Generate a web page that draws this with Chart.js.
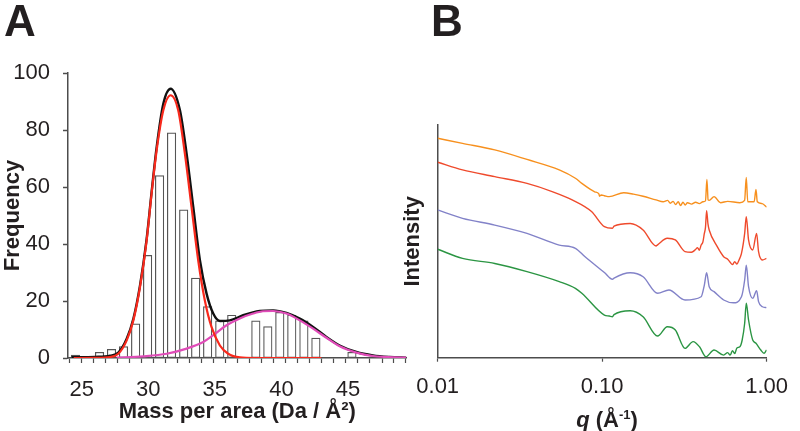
<!DOCTYPE html>
<html>
<head>
<meta charset="utf-8">
<script src="https://cdn.jsdelivr.net/npm/chart.js@4.4.0/dist/chart.umd.min.js"></script>
<style>
  body { margin: 0; background: #fff; width: 800px; height: 431px; position: relative; overflow: hidden;
         font-family: "Liberation Sans", Arial, sans-serif; color: #231f20; }
  #chartA { position: absolute; left: 0; top: 0; }
  #chartB { position: absolute; left: 400px; top: 0; }
  .letter { position: absolute; top: -1px; font-size: 44px; font-weight: bold; line-height: 44px; }
  #qTitle { position: absolute; top: 407px; left: 607px; transform: translateX(-50%);
            font-size: 22px; font-weight: bold; line-height: 26px; white-space: nowrap; }
  #qTitle sup { font-size: 13px; vertical-align: 8px; line-height: 0; }
</style>
</head>
<body>
<canvas id="chartA" width="420" height="431"></canvas>
<canvas id="chartB" width="400" height="431"></canvas>
<div class="letter" style="left:4px">A</div>
<div class="letter" style="left:431px">B</div>
<div id="qTitle"><i>q</i> (Å<sup>-1</sup>)</div>
<script>
// ---- panel A: histogram of mass per area ----
const binCenters = [24.53, 25.43, 26.34, 27.24, 28.14, 29.05, 29.95, 30.85, 31.75, 32.66,
                    33.56, 34.46, 35.37, 36.27, 37.17, 38.08, 38.98, 39.88, 40.78, 41.69,
                    42.59, 43.49, 44.40, 45.30, 46.20, 47.11, 48.01, 48.91];
const binCounts = [1, 0, 2, 3, 4, 12, 36, 64, 79, 52,
                   28, 18, 13, 15, 0, 13, 11, 16, 15, 13,
                   7, 0, 0, 2, 0, 0, 0, 0];
const massTicks = [25, 30, 35, 40, 45];

// fitted curves
const fitSumX = [24.25, 26.0, 27.13, 27.75, 28.38, 28.88, 29.38, 29.88, 30.25, 30.63, 31.13, 31.68,
                 32.38, 32.88, 33.38, 33.88, 34.38, 34.88, 35.38, 36.13, 37.13, 38.38, 39.38, 40.38,
                 41.38, 42.38, 43.38, 44.38, 45.63, 46.88, 48.13, 49.38];
const fitSumY = [0.3, 0.4, 0.8, 1.9, 6.8, 13.8, 25.5, 41.9, 58.2, 74.0, 89.2, 94.5,
                 86.9, 71.7, 53.0, 34.3, 22.6, 15.6, 13.0, 13.2, 15.0, 16.5, 16.7, 15.8,
                 13.8, 10.9, 7.4, 4.4, 2.1, 0.9, 0.35, 0.1];
const fit1X = [24.4, 26.0, 27.13, 27.75, 28.38, 28.88, 29.38, 29.88, 30.25, 30.63, 31.13, 31.68,
               32.25, 32.75, 33.25, 33.75, 34.25, 34.75, 35.38, 36.0, 36.88, 38.0, 43.0];
const fit1Y = [0, 0.05, 0.35, 1.5, 6.2, 13.2, 24.9, 41.3, 57.7, 72.9, 86.9, 92.2,
               86.9, 71.7, 53.0, 34.3, 20.2, 10.9, 4.4, 1.5, 0.2, 0, 0];
const fit2X = [27.63, 29.63, 31.38, 32.88, 34.13, 34.88, 35.88, 36.88, 37.88, 38.63, 39.38, 40.38,
               41.38, 42.38, 43.38, 44.38, 45.63, 46.88, 49.38];
const fit2Y = [0.1, 0.6, 1.5, 3.3, 5.6, 8.0, 11.5, 13.9, 15.6, 16.4, 16.5, 15.6,
               13.2, 10.3, 7.1, 4.1, 1.9, 0.7, 0.1];

// ---- panel B: scattering curves ----
const qTicks = [0.01, 0.1, 1];
const orangeQ = [0.01, 0.01416, 0.02223, 0.03491, 0.05485, 0.06875, 0.07524, 0.0901, 0.0955, 0.0965,
                 0.0986, 0.1032, 0.1104, 0.1353, 0.1549, 0.1774, 0.2126, 0.235, 0.25, 0.26,
                 0.27, 0.28, 0.29, 0.30, 0.31, 0.32, 0.33, 0.35, 0.37, 0.39,
                 0.41, 0.425, 0.4336, 0.441, 0.4477, 0.4791, 0.5244, 0.58, 0.6876, 0.735,
                 0.7524, 0.768, 0.84, 0.8619, 0.878, 0.94, 1.0];
const orangeI = [94.3, 92.1, 89.3, 85.2, 80.7, 77.1, 74.9, 71.3, 70.4, 69.4,
                 69.9, 69.6, 69.2, 70.9, 70.3, 69.4, 67.8, 67.0, 67.6, 66.4,
                 67.2, 65.8, 67.0, 65.4, 66.8, 65.6, 66.6, 66.0, 66.8, 66.2,
                 67.0, 67.4, 76.6, 67.8, 67.6, 69.2, 66.6, 67.2, 66.6, 67.6,
                 77.5, 67.0, 67.0, 72.3, 67.0, 66.2, 64.7];
const redQ = [0.01, 0.01416, 0.02223, 0.03491, 0.05012, 0.06572, 0.08613, 0.1032, 0.1155, 0.1181,
              0.1481, 0.1774, 0.2126, 0.2174, 0.249, 0.2787, 0.3191, 0.3492, 0.37, 0.38,
              0.39, 0.3999, 0.41, 0.4183, 0.425, 0.4318, 0.44, 0.4477, 0.5012, 0.5484,
              0.58, 0.6, 0.62, 0.64, 0.66, 0.68, 0.7035, 0.7357, 0.7524, 0.7768,
              0.8234, 0.8696, 0.8935, 0.9431, 1.0];
const redI = [84.0, 80.7, 77.8, 74.9, 71.3, 67.8, 62.8, 56.3, 55.6, 56.5,
              57.7, 54.9, 48.0, 48.5, 51.3, 50.6, 45.6, 45.3, 46.5, 47.3,
              46.2, 48.4, 49.8, 53.4, 56.0, 63.2, 57.5, 54.9, 47.7, 43.4,
              42.3, 41.0, 40.0, 41.3, 40.2, 42.0, 44.8, 53.4, 60.6, 50.6,
              46.3, 53.4, 45.6, 42.0, 42.7];
const blueQ = [0.01, 0.01416, 0.02223, 0.03491, 0.05485, 0.06875, 0.07873, 0.1032, 0.1155, 0.1181,
               0.1481, 0.1774, 0.2174, 0.2547, 0.3191, 0.3999, 0.4183, 0.4318, 0.4477, 0.4791,
               0.5484, 0.6281, 0.7035, 0.7357, 0.7524, 0.7768, 0.8234, 0.8696, 0.8935, 0.9431, 1.0];
const blueI = [63.5, 59.9, 57.0, 53.4, 48.4, 47.0, 43.4, 36.6, 33.7, 34.2,
               36.5, 34.8, 27.7, 29.1, 24.8, 26.2, 31.2, 36.5, 30.5, 28.4,
               24.8, 23.6, 26.2, 33.4, 39.8, 30.5, 25.5, 28.8, 24.1, 21.9, 21.5];
const greenQ = [0.01, 0.01416, 0.02223, 0.03491, 0.05485, 0.06875, 0.07524, 0.1032, 0.1104, 0.1155,
                0.1181, 0.1481, 0.1774, 0.2174, 0.249, 0.2787, 0.3191, 0.3573, 0.391, 0.4277,
                0.4791, 0.5484, 0.58, 0.6002, 0.62, 0.64, 0.66, 0.6876, 0.71, 0.7357,
                0.7524, 0.7768, 0.8234, 0.8619, 0.922, 0.9645, 1.0];
const greenI = [46.6, 42.7, 40.5, 37.0, 32.7, 29.8, 27.7, 18.3, 17.9, 17.6,
                18.5, 20.2, 17.6, 9.3, 13.3, 11.9, 4.0, 6.9, 4.7, 0.4,
                3.3, 1.1, 2.2, 1.1, 3.0, 1.8, 4.2, 4.7, 7.5, 14.8,
                23.4, 16.2, 7.6, 6.2, 3.3, 1.9, 3.3];

const ink = '#231f20';
const axisCol = '#4d4d4d';
const fam = '"Liberation Sans", Arial, sans-serif';
Chart.defaults.font.family = fam;
Chart.defaults.color = ink;

function pts(xs, ys) {
    return xs.map(function (x, i) { return { x: x, y: ys[i] }; });
}

// bin edges for the small tick marks under the histogram
var binEdges = [];
for (var i = 0; i < binCenters.length - 1; i++) {
    binEdges.push((binCenters[i] + binCenters[i + 1]) / 2);
}
binEdges.unshift(2 * binCenters[0] - binEdges[0]);
binEdges.push(2 * binCenters[binCenters.length - 1] - binEdges[binEdges.length - 1]);

function fitLine(xs, ys, color, width, order) {
    return {
        type: 'line',
        data: pts(xs, ys),
        borderColor: color,
        borderWidth: width,
        pointRadius: 0,
        cubicInterpolationMode: 'monotone',
        order: order
    };
}

new Chart(document.getElementById('chartA'), {
    type: 'bar',
    data: {
        datasets: [
            fitLine(fit1X, fit1Y, '#f8291c', 2.2, 1),
            fitLine(fit2X, fit2Y, '#e04cb8', 2.2, 2),
            fitLine(fitSumX, fitSumY, '#111111', 2.4, 3),
            {
                type: 'bar',
                data: pts(binCenters, binCounts),
                backgroundColor: '#ffffff',
                borderColor: '#555555',
                borderWidth: 1.2,
                borderSkipped: false,
                barThickness: 8.5,
                order: 4
            }
        ]
    },
    options: {
        responsive: false,
        animation: false,
        layout: { padding: { top: 73, right: 13, left: 0, bottom: 0 } },
        plugins: { legend: { display: false }, tooltip: { enabled: false } },
        scales: {
            x: {
                type: 'linear',
                min: 23.97,
                max: 49.4,
                offset: false,
                afterFit: function (s) { s.height = 73; },
                afterBuildTicks: function (s) {
                    s.ticks = binEdges.concat(massTicks).sort(function (a, b) { return a - b; })
                        .map(function (v) { return { value: v }; });
                },
                ticks: {
                    autoSkip: false,
                    maxRotation: 0,
                    padding: 14,
                    font: { size: 22 },
                    color: ink,
                    callback: function (v) { return massTicks.indexOf(v) >= 0 ? String(v) : ''; }
                },
                grid: {
                    drawOnChartArea: false,
                    offset: false,
                    tickLength: 5,
                    tickWidth: 1.2,
                    tickColor: function (ctx) {
                        return ctx.tick && massTicks.indexOf(ctx.tick.value) >= 0 ? 'rgba(0,0,0,0)' : axisCol;
                    }
                },
                border: { color: axisCol, width: 1.5 },
                title: {
                    display: true,
                    text: 'Mass per area (Da / Å²)',
                    font: { size: 22, weight: 'bold' },
                    color: ink,
                    padding: { top: 0, bottom: 6 }
                }
            },
            y: {
                min: 0,
                max: 100,
                afterFit: function (s) { s.width = 68; },
                ticks: { stepSize: 20, padding: 13, font: { size: 22 }, color: ink },
                grid: { drawOnChartArea: false, tickLength: 5, tickWidth: 1.5, tickColor: axisCol },
                border: { color: axisCol, width: 1.5 },
                title: {
                    display: true,
                    text: 'Frequency',
                    font: { size: 22, weight: 'bold' },
                    color: ink,
                    padding: 0
                }
            }
        }
    }
});

function saxsLine(qs, vals, color) {
    return {
        data: pts(qs, vals),
        borderColor: color,
        borderWidth: 1.4,
        pointRadius: 0,
        cubicInterpolationMode: 'monotone'
    };
}

new Chart(document.getElementById('chartB'), {
    type: 'line',
    data: {
        datasets: [
            saxsLine(orangeQ, orangeI, '#f7901e'),
            saxsLine(redQ, redI, '#ef4a2c'),
            saxsLine(blueQ, blueI, '#8282c8'),
            saxsLine(greenQ, greenI, '#2b9543')
        ]
    },
    options: {
        responsive: false,
        animation: false,
        layout: { padding: { top: 125, right: 22, left: 0, bottom: 0 } },
        plugins: { legend: { display: false }, tooltip: { enabled: false } },
        scales: {
            x: {
                type: 'logarithmic',
                min: 0.01,
                max: 1,
                afterFit: function (s) { s.height = 73.3; },
                afterBuildTicks: function (s) {
                    s.ticks = qTicks.map(function (v) { return { value: v }; });
                },
                ticks: {
                    autoSkip: false,
                    maxRotation: 0,
                    padding: 12,
                    font: { size: 22 },
                    color: ink,
                    callback: function (v) { return Number(v).toFixed(2); }
                },
                grid: { drawOnChartArea: false, tickLength: 4, tickWidth: 1.2, tickColor: axisCol },
                border: { color: axisCol, width: 1.5 }
            },
            y: {
                min: 0,
                max: 100,
                afterFit: function (s) { s.width = 37.7; },
                ticks: { display: false },
                grid: { display: false },
                border: { display: true, color: axisCol, width: 1.5 },
                title: {
                    display: true,
                    text: 'Intensity',
                    font: { size: 22, weight: 'bold' },
                    color: ink,
                    padding: 0
                }
            }
        }
    }
});
</script>
</body>
</html>
